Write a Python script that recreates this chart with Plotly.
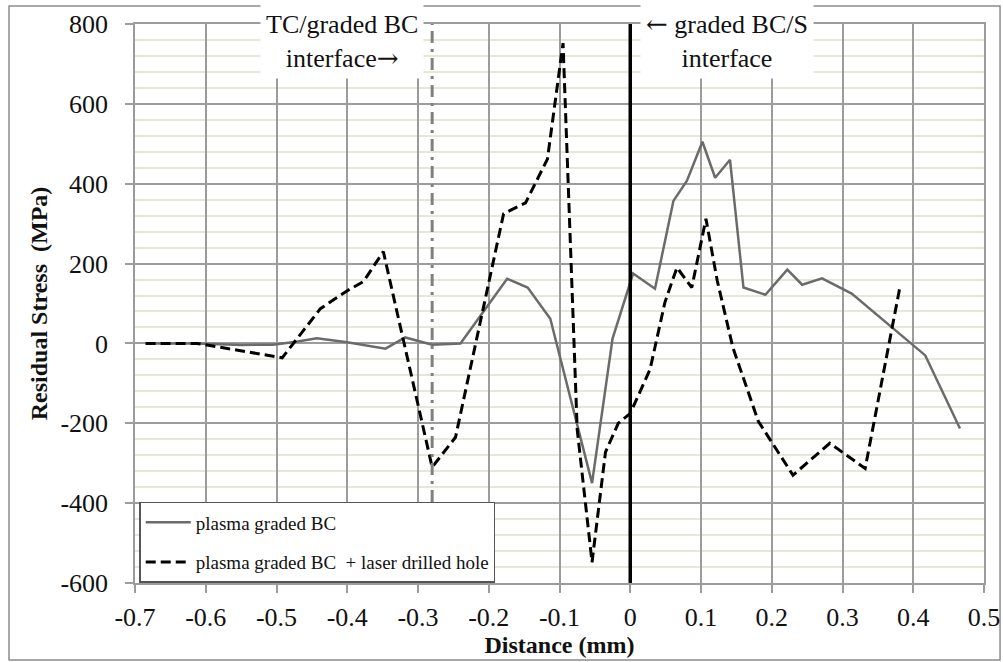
import plotly.graph_objects as go

# ---- data ----
solid_name = "plasma graded BC"
solid_x = [-0.685, -0.612, -0.55, -0.505, -0.47, -0.443, -0.40, -0.346, -0.318, -0.28, -0.24,
           -0.174, -0.145, -0.113, -0.054, -0.025, 0.004, 0.035, 0.061, 0.08, 0.102, 0.12,
           0.141, 0.16, 0.191, 0.222, 0.243, 0.271, 0.313, 0.417, 0.466]
solid_y = [0, 0, -4, -3, 5, 13, 3, -13, 15, -3, 0,
           162, 140, 62, -350, 12, 175, 137, 357, 407, 505, 415,
           460, 140, 122, 185, 147, 163, 125, -30, -213]

dashed_name = "plasma graded BC\u00a0 + laser drilled hole"
dashed_x = [-0.685, -0.612, -0.492, -0.438, -0.40, -0.377, -0.349, -0.28, -0.247, -0.179,
            -0.148, -0.117, -0.095, -0.075, -0.054, -0.035, -0.017, 0.0, 0.028, 0.049,
            0.066, 0.087, 0.107, 0.123, 0.145, 0.181, 0.23, 0.282, 0.332, 0.381]
dashed_y = [0, 0, -36, 87, 132, 155, 230, -310, -235, 325,
            352, 462, 752, -215, -548, -272, -200, -175, -65, 103,
            190, 140, 312, 157, -10, -195, -330, -250, -313, 140]

tc_interface_x = -0.28
bc_s_interface_x = 0.0

x_ticks = [-0.7, -0.6, -0.5, -0.4, -0.3, -0.2, -0.1, 0, 0.1, 0.2, 0.3, 0.4, 0.5]
x_ticktext = ["-0.7", "-0.6", "-0.5", "-0.4", "-0.3", "-0.2", "-0.1", "0", "0.1", "0.2", "0.3", "0.4", "0.5"]
y_ticks = [-600, -400, -200, 0, 200, 400, 600, 800]
y_ticktext = ["-600", "-400", "-200", "0", "200", "400", "600", "800"]

ARROW_STYLE = "font-family:'DejaVu Serif'"
label_tc = "TC/graded BC<br>interface<span style=\"" + ARROW_STYLE + "\">\u2192</span>"
label_s = "<span style=\"" + ARROW_STYLE + "\">\u2190</span> graded BC/S<br>interface"

FONT = "'Liberation Serif', 'Times New Roman', serif"
GRID = "#9c9c9c"

fig = go.Figure()
fig.add_trace(go.Scatter(x=solid_x, y=solid_y, mode="lines", name=solid_name,
                         legendgroup="a",
                         line=dict(color="#6b6b6b", width=2.5)))
fig.add_trace(go.Scatter(x=dashed_x, y=dashed_y, mode="lines", name=dashed_name,
                         legendgroup="b",
                         line=dict(color="#000000", width=3, dash="10px,5px")))

fig.add_vline(x=tc_interface_x, line=dict(color="#808080", width=3, dash="12px,6px,3px,6px"))
fig.add_vline(x=bc_s_interface_x, line=dict(color="#000000", width=3.5))

fig.add_annotation(x=-0.408, y=757, xref="x", yref="y", text=label_tc, showarrow=False,
                   font=dict(family=FONT, size=26, color="#111"), bgcolor="white",
                   borderpad=5, xanchor="center", yanchor="middle")
fig.add_annotation(x=0.137, y=757, xref="x", yref="y", text=label_s, showarrow=False,
                   font=dict(family=FONT, size=26, color="#111"), bgcolor="white",
                   borderpad=5, xanchor="center", yanchor="middle")

# outer frame
fig.add_shape(type="rect", xref="paper", yref="paper", x0=-0.1484, x1=1.0189, y0=-0.1377, y1=1.0322,
              line=dict(color="#8c8c8c", width=1.5), layer="below")

fig.update_layout(
    width=1003, height=662,
    margin=dict(l=135, r=19, t=24, b=79, autoexpand=False),
    paper_bgcolor="white", plot_bgcolor="white",
    font=dict(family=FONT, color="#111"),
    showlegend=True,
    legend=dict(x=0.005, y=0.145, xanchor="left", yanchor="top",
                bgcolor="white", bordercolor="#555", borderwidth=1.5,
                font=dict(family=FONT, size=19, color="#111"),
                traceorder="grouped", tracegroupgap=12, itemwidth=45,
                entrywidth=330, entrywidthmode="pixels"),
    xaxis=dict(range=[-0.7, 0.5], tickvals=x_ticks, ticktext=x_ticktext, automargin=False,
               showgrid=True, gridcolor=GRID, gridwidth=1.5, zeroline=False,
               showline=True, mirror=True, linecolor=GRID, linewidth=1.5,
               ticks="outside", ticklen=8, tickcolor=GRID, tickwidth=1.5,
               tickfont=dict(family=FONT, size=26, color="#111"), ticklabelstandoff=2,
               title=dict(text="<b>Distance (mm)</b>", standoff=4,
                          font=dict(family=FONT, size=24, color="#111"))),
    yaxis=dict(range=[-600, 800], tickvals=y_ticks, ticktext=y_ticktext, automargin=False,
               showgrid=True, gridcolor=GRID, gridwidth=1.5, zeroline=False,
               showline=True, mirror=True, linecolor=GRID, linewidth=1.5,
               ticks="outside", ticklen=8, tickcolor=GRID, tickwidth=1.5,
               tickfont=dict(family=FONT, size=26, color="#111"), ticklabelstandoff=12,
               minor=dict(dtick=40, showgrid=True, gridcolor="#e7e7d6", gridwidth=2, ticks=""),
               title=dict(text="<b>Residual Stress  (MPa)</b>", standoff=6,
                          font=dict(family=FONT, size=24, color="#111"))),
)

fig.write_html("out.html")
